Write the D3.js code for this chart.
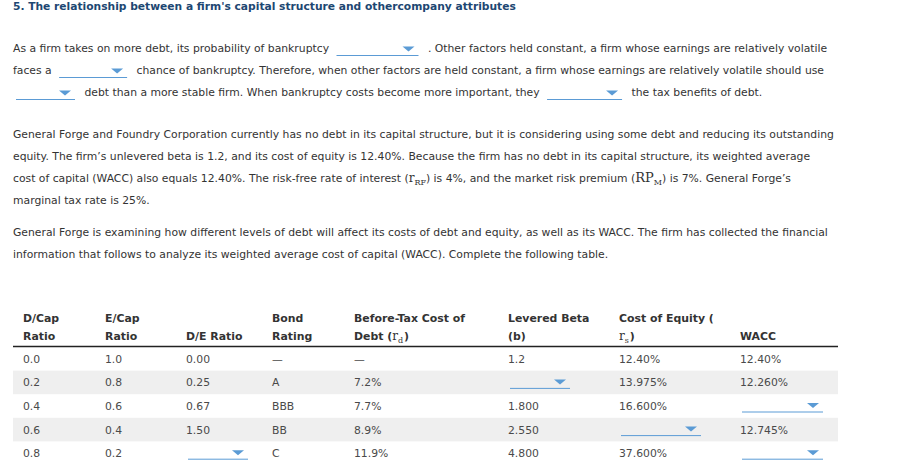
<!DOCTYPE html>
<meta charset="utf-8">
<body style="margin: 0; overflow: hidden; background: #fff">
<script src="https://d3js.org/d3.v7.min.js"></script>
<script>
    // --- data ---------------------------------------------------------
    var title = "5. The relationship between a firm's capital structure and othercompany attributes";

    // paragraph lines; "{dd}" marks a blank drop-down
    var para1 = [
        "As a firm takes on more debt, its probability of bankruptcy {dd} . Other factors held constant, a firm whose earnings are relatively volatile",
        "faces a {dd} chance of bankruptcy. Therefore, when other factors are held constant, a firm whose earnings are relatively volatile should use",
        "{dd} debt than a more stable firm. When bankruptcy costs become more important, they {dd} the tax benefits of debt."
    ];
    var para2 = [
        "General Forge and Foundry Corporation currently has no debt in its capital structure, but it is considering using some debt and reducing its outstanding",
        "equity. The firm\u2019s unlevered beta is 1.2, and its cost of equity is 12.40%. Because the firm has no debt in its capital structure, its weighted average",
        "cost of capital (WACC) also equals 12.40%. The risk-free rate of interest {rRF} is 4%, and the market risk premium {RPM} is 7%. General Forge\u2019s",
        "marginal tax rate is 25%."
    ];
    var para3 = [
        "General Forge is examining how different levels of debt will affect its costs of debt and equity, as well as its WACC. The firm has collected the financial",
        "information that follows to analyze its weighted average cost of capital (WACC). Complete the following table."
    ];

    var columns = ["dcap", "ecap", "de", "bond", "rd", "beta", "rs", "wacc"];
    var headers = [
        ["D/Cap", "Ratio"], ["E/Cap", "Ratio"], ["", "D/E Ratio"], ["Bond", "Rating"],
        ["Before-Tax Cost of", "Debt ({rd})"], ["Levered Beta", "(b)"], ["Cost of Equity (", "{rs})"], ["", "WACC"]
    ];
    var dcap = ["0.0", "0.2", "0.4", "0.6", "0.8"];
    var ecap = ["1.0", "0.8", "0.6", "0.4", "0.2"];
    var deRatio = ["0.00", "0.25", "0.67", "1.50", null];
    var bond = ["\u2014", "A", "BBB", "BB", "C"];
    var rd = ["\u2014", "7.2%", "7.7%", "8.9%", "11.9%"];
    var beta = ["1.2", null, "1.800", "2.550", "4.800"];
    var rs = ["12.40%", "13.975%", "16.600%", null, "37.600%"];
    var wacc = ["12.40%", "12.260%", null, "12.745%", null];

    // --- layout -------------------------------------------------------
    var width = 912, height = 474;
    var textColor = "#333", ddColor = "#5b9bd5";
    var font = "Verdana, 'DejaVu Sans', sans-serif";
    var serif = "'DejaVu Serif', 'Liberation Serif', serif";

    var svg = d3.select("body").append("svg")
        .attr("width", width).attr("height", height)
        .style("font-family", font);

    svg.append("text")
        .attr("x", 13).attr("y", 9.5)
        .attr("fill", "#1d4772")
        .style("font-size", "10.7px").style("font-weight", "bold")
        .text(title);

    // draws a blank drop-down: underline + triangle
    var dropdown = function (g, x0, x1, y) {
        g.append("line")
            .attr("x1", x0).attr("x2", x1).attr("y1", y).attr("y2", y)
            .attr("stroke", ddColor).attr("stroke-width", 1);
        var tx = x1 - 4;
        g.append("path")
            .attr("d", "M" + (tx - 12) + "," + (y - 9) + "L" + tx + "," + (y - 9) + "L" + (tx - 6) + "," + (y - 4) + "Z")
            .attr("fill", ddColor);
    };

    // math bits (serif, like MathJax)
    var mathBit = function (t, sym, sub, x, y) {
        var txt = t.append("text").attr("x", x).attr("y", y);
        txt.append("tspan").text("(");
        txt.append("tspan").style("font-family", serif)
            .style("font-size", sym === "r" ? "12px" : "13px").text(sym);
        txt.append("tspan").attr("dy", 2.5).style("font-family", serif)
            .style("font-size", "8px").text(sub);
        txt.append("tspan").attr("dy", -2.5).text(")");
        return txt.node().getComputedTextLength();
    };

    // paragraph lines, flowing text around the drop-downs
    var ddWidths = [[82], [68], [59, 75]];
    var drawLines = function (lines, y0, step, widths) {
        lines.forEach(function (line, i) {
            var g = svg.append("g").attr("fill", textColor).style("font-size", "10.8px");
            var y = y0 + i * step;
            var x = 13;
            var k = 0;
            var parts = line.split(/(\{dd\}|\{rRF\}|\{RPM\})/);
            parts.forEach(function (p) {
                if (p === "") return;
                if (p === "{dd}") {
                    var w = widths[i][k++];
                    if (x > 13) x += 4; else x = 16;
                    dropdown(g, x, x + w, y + 3.5);
                    x += w + 6;
                } else if (p === "{rRF}") {
                    x += mathBit(g, "r", "RF", x, y);
                } else if (p === "{RPM}") {
                    x += mathBit(g, "RP", "M", x, y);
                } else {
                    var t = g.append("text").attr("x", x).attr("y", y)
                        .attr("xml:space", "preserve").style("white-space", "pre").text(p);
                    x += t.node().getComputedTextLength();
                }
            });
        });
    };

    drawLines(para1, 52, 22, ddWidths);
    drawLines(para2, 138, 22, []);
    drawLines(para3, 236, 22, []);

    // --- table --------------------------------------------------------
    var table = [dcap, ecap, deRatio, bond, rd, beta, rs, wacc];
    var rows = d3.range(dcap.length);

    var xCol = d3.scaleOrdinal()
        .domain(columns)
        .range([23, 105, 186, 272, 354, 508, 619, 740]);
    var ddCol = d3.scaleOrdinal()
        .domain(columns)
        .range([0, 0, 60, 0, 0, 60, 80, 81]);
    var yRow = d3.scaleBand()
        .domain(rows)
        .range([347, 465]);

    var tableLeft = 13, tableRight = 838;

    svg.selectAll("rect.stripe")
        .data(rows.filter(function (r) { return r % 2 === 1; }))
        .enter().append("rect")
        .attr("class", "stripe")
        .attr("x", tableLeft).attr("width", tableRight - tableLeft)
        .attr("y", function (r) { return yRow(r); })
        .attr("height", yRow.bandwidth())
        .attr("fill", "#efefef");

    svg.append("line")
        .attr("x1", tableLeft).attr("x2", tableRight)
        .attr("y1", 346.5).attr("y2", 346.5)
        .attr("stroke", "#222").attr("stroke-width", 1.6);

    // headers
    var hg = svg.append("g").attr("fill", "#333")
        .style("font-size", "10.9px").style("font-weight", "bold");
    headers.forEach(function (h, c) {
        var x = xCol(columns[c]);
        h.forEach(function (line, j) {
            var y = 322 + j * 18;
            var m = line.match(/^(.*)\{(rd|rs)\}(.*)$/);
            if (m) {
                var t = hg.append("text").attr("x", x).attr("y", y)
                    .attr("xml:space", "preserve").style("white-space", "pre").text(m[1]);
                var w = m[1] ? t.node().getComputedTextLength() : 0;
                var mt = hg.append("text").attr("x", x + w).attr("y", y)
                    .style("font-weight", "normal")
                    .style("font-family", serif);
                mt.append("tspan").style("font-size", "12px").text("r");
                mt.append("tspan").attr("dy", 2.5).style("font-size", "8px").text(m[2].slice(1));
                var mw = mt.node().getComputedTextLength();
                hg.append("text").attr("x", x + w + mw + 1).attr("y", y).text(m[3]);
            } else {
                hg.append("text").attr("x", x).attr("y", y).text(line);
            }
        });
    });

    // body cells
    var bg = svg.append("g").attr("fill", "#4a4a4a").style("font-size", "10.8px");
    table.forEach(function (col, c) {
        var key = columns[c];
        col.forEach(function (v, r) {
            var yc = yRow(r) + yRow.bandwidth() / 2;
            if (v === null) {
                var x0 = xCol(key) + 2;
                dropdown(bg, x0, x0 + ddCol(key), yc + 6);
            } else {
                bg.append("text")
                    .attr("x", xCol(key)).attr("y", yc + 4)
                    .text(v);
            }
        });
    });
</script>
